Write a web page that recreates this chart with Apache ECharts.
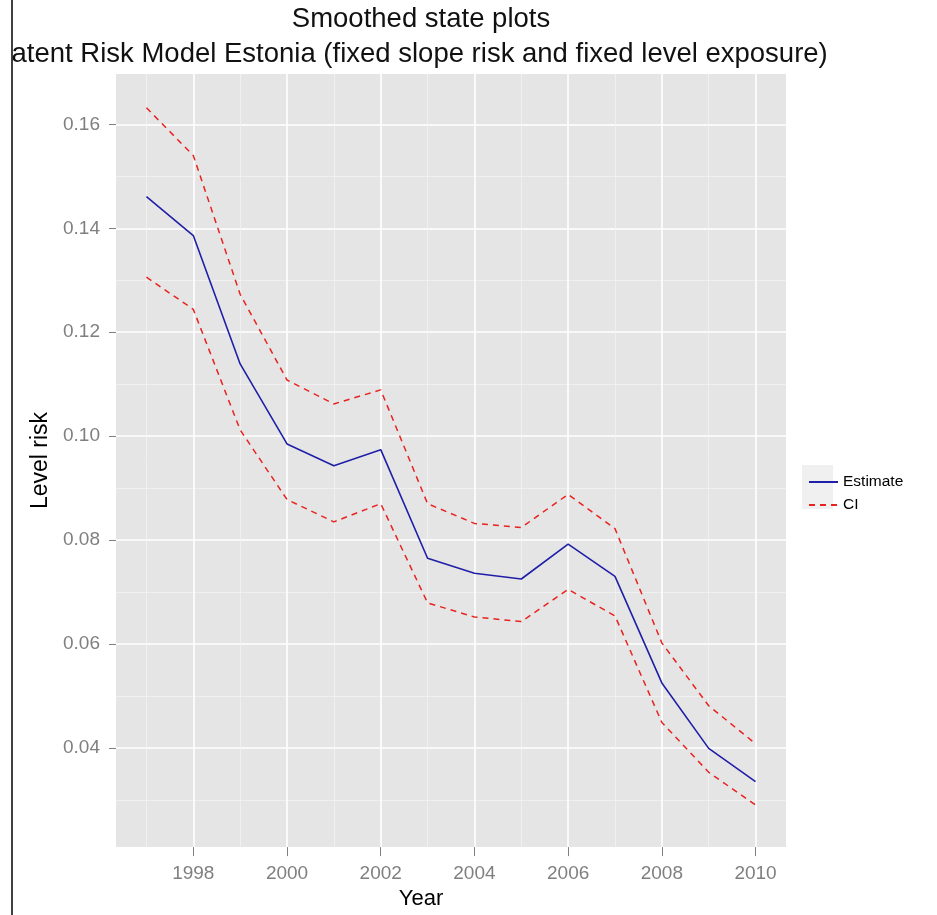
<!DOCTYPE html>
<html>
<head>
<meta charset="utf-8">
<script src="https://cdn.jsdelivr.net/npm/echarts@6/dist/echarts.min.js"></script>
<style>
  html, body { margin: 0; padding: 0; background: #fff; }
  #chart { width: 937px; height: 915px; }
</style>
</head>
<body>
<div id="chart"></div>
<script>
// values
const years = [1997, 1998, 1999, 2000, 2001, 2002, 2003, 2004, 2005, 2006, 2007, 2008, 2009, 2010];
const estimate = [0.1461, 0.1386, 0.1139, 0.0985, 0.0943, 0.0974, 0.0765, 0.0736, 0.0725, 0.0792, 0.0730, 0.0525, 0.0399, 0.0335];
const upperCI = [0.1632, 0.1540, 0.1273, 0.1108, 0.1062, 0.1089, 0.0870, 0.0832, 0.0824, 0.0888, 0.0822, 0.0602, 0.0481, 0.0408];
const lowerCI = [0.1306, 0.1244, 0.1012, 0.0878, 0.0835, 0.0870, 0.0679, 0.0652, 0.0643, 0.0705, 0.0654, 0.0449, 0.0353, 0.0290];

const xMajor = [1998, 2000, 2002, 2004, 2006, 2008, 2010];
const xMinor = [1997, 1999, 2001, 2003, 2005, 2007, 2009];
const yMajor = [0.04, 0.06, 0.08, 0.10, 0.12, 0.14, 0.16];
const yMinor = [0.03, 0.05, 0.07, 0.09, 0.11, 0.13, 0.15];

const titleLines = [
  "Smoothed state plots",
  "Latent Risk Model Estonia (fixed slope risk and fixed level exposure)"
];

const FONT = "Liberation Sans, Arial, sans-serif";
const GREY = "#7f7f7f";

const pairs = (vals) => years.map((y, i) => [y, vals[i]]);

const chart = echarts.init(document.getElementById("chart"));

const xRange = { min: 1996.35, max: 2010.65 };
const yRange = { min: 0.0209, max: 0.1697 };

const option = {
  animation: false,
  backgroundColor: "#fff",
  grid: {
    left: 116, right: 151, top: 74, bottom: 63,
    show: true, backgroundColor: "#e5e5e5", borderWidth: 0
  },
  graphic: [
    { type: "text", x: 421, y: 19, style: { text: titleLines[0], font: "27.5px " + FONT, fill: "#111", textAlign: "center", textVerticalAlign: "middle" } },
    { type: "text", x: 412, y: 54, style: { text: titleLines[1], font: "27.5px " + FONT, fill: "#111", textAlign: "center", textVerticalAlign: "middle" } },
    // the picture is cut at the left, behind a thin black frame line
    { type: "rect", z: 100, shape: { x: 0, y: 0, width: 12, height: 915 }, style: { fill: "#fff" } },
    { type: "line", z: 101, shape: { x1: 12, y1: 0, x2: 12, y2: 915 }, style: { stroke: "#000", lineWidth: 1.5 } },
    { type: "rect", z: -1, shape: { x: 802, y: 465, width: 31, height: 22 }, style: { fill: "#f0f0f0" } },
    { type: "rect", z: -1, shape: { x: 802, y: 487, width: 31, height: 22 }, style: { fill: "#f0f0f0" } }
  ],
  legend: {
    orient: "vertical",
    left: 803, top: 469,
    itemWidth: 29, itemHeight: 14, itemGap: 7,
    itemStyle: { opacity: 0 },
    textStyle: { fontFamily: FONT, fontSize: 15.5, color: "#000" },
    data: ["Estimate", "CI"]
  },
  xAxis: [
    {
      type: "value", ...xRange,
      name: "Year", nameLocation: "middle", nameGap: 38,
      nameTextStyle: { fontFamily: FONT, fontSize: 22, color: "#000", padding: [0, 60, 0, 0] },
      axisLine: { show: false },
      axisTick: { show: true, length: 9, customValues: xMajor, lineStyle: { color: GREY, width: 1 } },
      axisLabel: {
        customValues: xMajor, margin: 17, fontFamily: FONT, fontSize: 19, color: GREY,
        formatter: (v) => String(v)
      },
      splitLine: { show: true, lineStyle: { color: "#fff", width: 1.6 } }
    },
    {
      type: "value", ...xRange, position: "top",
      axisLine: { show: false },
      axisTick: { show: false, customValues: xMinor },
      axisLabel: { show: false, customValues: xMinor },
      splitLine: { show: true, lineStyle: { color: "#f2f2f2", width: 0.8 } }
    }
  ],
  yAxis: [
    {
      type: "value", ...yRange,
      name: "Level risk", nameLocation: "middle", nameGap: 62, nameRotate: 90,
      nameTextStyle: { fontFamily: FONT, fontSize: 23, color: "#000" },
      axisLine: { show: false },
      axisTick: { show: true, length: 7, customValues: yMajor, lineStyle: { color: GREY, width: 1 } },
      axisLabel: {
        customValues: yMajor, margin: 16, fontFamily: FONT, fontSize: 19, color: GREY,
        formatter: (v) => v.toFixed(2)
      },
      splitLine: { show: true, lineStyle: { color: "#fff", width: 1.6 } }
    },
    {
      type: "value", ...yRange, position: "right",
      axisLine: { show: false },
      axisTick: { show: false, customValues: yMinor },
      axisLabel: { show: false, customValues: yMinor },
      splitLine: { show: true, lineStyle: { color: "#f2f2f2", width: 0.8 } }
    }
  ],
  series: [
    {
      name: "Estimate", type: "line", data: pairs(estimate),
      symbol: "none", color: "#1f1fa8",
      lineStyle: { color: "#1f1fa8", width: 1.6 }
    },
    {
      name: "CI", type: "line", data: pairs(upperCI),
      symbol: "none", color: "#e8231f",
      lineStyle: { color: "#e8231f", width: 1.5, type: [6, 5] }
    },
    {
      name: "CI", type: "line", data: pairs(lowerCI),
      symbol: "none", color: "#e8231f",
      lineStyle: { color: "#e8231f", width: 1.5, type: [6, 5] }
    }
  ]
};

chart.setOption(option);
</script>
</body>
</html>
